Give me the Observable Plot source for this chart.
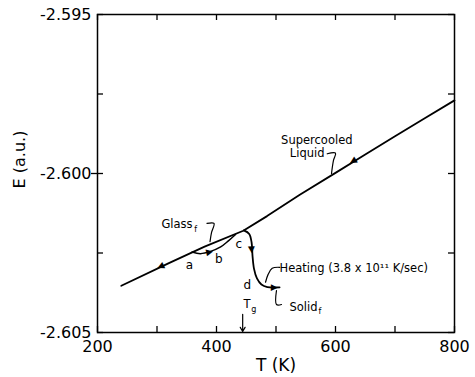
<!DOCTYPE html>
<html><head><meta charset="utf-8">
<script src="https://cdn.jsdelivr.net/npm/d3@7"></script>
<script src="https://cdn.jsdelivr.net/npm/@observablehq/plot@0.6"></script>
<style>body{margin:0;background:#fff}</style>
</head><body><div id="chart"></div>
<script>
// Supercooled liquid / glass branch (cooling)
const liquidT = [240, 320, 380, 445, 485, 540, 600, 650, 700, 750, 800];
const liquidE = [-2.60353, -2.60282, -2.60230, -2.60180, -2.60134, -2.60067, -2.59998, -2.59940, -2.59883, -2.59826, -2.59770];
// glass loop (a -> b)
const glassT = [359, 373, 390, 407, 420, 432];
const glassE = [-2.60247, -2.60252, -2.60245, -2.60231, -2.60212, -2.60192];
// heating curve c -> d -> solid
const heatT = [446, 455, 459, 460.5, 463, 468, 475.5, 485.5, 506];
const heatE = [-2.60179, -2.60190, -2.60217, -2.60258, -2.60299, -2.60330, -2.60349, -2.60357, -2.60358];

const xTicks = [200, 300, 400, 500, 600, 700, 800];
const xTickLabels = [200, 400, 600, 800];
const yTicks = [-2.605, -2.6025, -2.6, -2.5975, -2.595];
const yTickLabels = [-2.605, -2.6, -2.595];
const xDomain = [200, 800];
const yDomain = [-2.605, -2.595];

// annotation texts
const labels = [
  {text: "Supercooled", T: 628.6, E: -2.59896, anchor: "end", size: 11.5},
  {text: "Liquid", T: 581.5, E: -2.59937, anchor: "end", size: 11.5},
  {text: "Glass", T: 359.7, E: -2.60160, anchor: "end", size: 11.5},
  {text: "f", T: 362.5, E: -2.60177, anchor: "start", size: 8},
  {text: "Heating (3.8 x 10¹¹ K/sec)", T: 506, E: -2.60299, anchor: "start", size: 11.5},
  {text: "Solid", T: 522.7, E: -2.60421, anchor: "start", size: 11.5},
  {text: "f", T: 571.5, E: -2.60434, anchor: "start", size: 8},
  {text: "T", T: 445.4, E: -2.60412, anchor: "start", size: 11.5},
  {text: "g", T: 458.5, E: -2.60426, anchor: "start", size: 8},
  {text: "a", T: 354.6, E: -2.60289, anchor: "middle", size: 12},
  {text: "b", T: 403.9, E: -2.60268, anchor: "middle", size: 12},
  {text: "c", T: 437.5, E: -2.60221, anchor: "middle", size: 12},
  {text: "d", T: 451.6, E: -2.60352, anchor: "middle", size: 12}
];
// pointer strokes for labels
const pointers = [
  {id: "liquid", T: [586.1, 600.0, 596.6, 593.3], E: [-2.59938, -2.59936, -2.59959, -2.60000]},
  {id: "glass", T: [384.0, 395.8, 391.6, 389.1], E: [-2.60157, -2.60157, -2.60186, -2.60214]},
  {id: "heating", T: [506.4, 493.6, 486.6, 482.4], E: [-2.60295, -2.60298, -2.60318, -2.60342]},
  {id: "solid", T: [509.2, 500.8, 500.8], E: [-2.60412, -2.60412, -2.60368]}
];
const tgArrow = {T: 444, E1: -2.60443, E2: -2.60497};
// flow-direction arrowheads: series, segment index, fraction, direction
const flowArrows = [
  {series: "liquid", seg: 0, t: 0.83, dir: -1},
  {series: "liquid", seg: 6, t: 0.6, dir: -1},
  {series: "glass", seg: 1, t: 0.9, dir: 1},
  {series: "heat", seg: 2, t: 0.56, dir: 1},
  {series: "heat", seg: 7, t: 0.56, dir: 1}
];

const W = 475, H = 377, mL = 97, mR = 21, mT = 14, mB = 45;
const plotW = W - mL - mR, plotH = H - mT - mB;
const kx = plotW / (xDomain[1] - xDomain[0]);
const ky = plotH / (yDomain[1] - yDomain[0]);

const zip = (T, E) => T.map((t, i) => ({T: t, E: E[i]}));
const series = {liquid: zip(liquidT, liquidE), glass: zip(glassT, glassE), heat: zip(heatT, heatE)};
const arrowPts = flowArrows.map(a => {
  const p0 = series[a.series][a.seg], p1 = series[a.series][a.seg + 1];
  const T = p0.T + (p1.T - p0.T) * a.t, E = p0.E + (p1.E - p0.E) * a.t;
  const ang = Math.atan2(-(p1.E - p0.E) * ky * a.dir, (p1.T - p0.T) * kx * a.dir) * 180 / Math.PI;
  return {T, E, ang};
});
const pointerData = pointers.flatMap(p => p.T.map((t, i) => ({id: p.id, T: t, E: p.E[i]})));

const chart = Plot.plot({
  width: W, height: H,
  marginLeft: mL, marginRight: mR, marginTop: mT, marginBottom: mB,
  style: {fontFamily: "DejaVu Sans", fontSize: "16px", color: "black", background: "white"},
  x: {domain: xDomain},
  y: {domain: yDomain},
  marks: [
    Plot.frame({strokeWidth: 1.5}),
    Plot.tickX(xTicks, {x: d => d, insetTop: plotH - 6, strokeWidth: 1.3}),
    Plot.tickX(xTicks, {x: d => d, insetBottom: plotH - 6, strokeWidth: 1.3}),
    Plot.tickY(yTicks, {y: d => d, insetRight: plotW - 6, strokeWidth: 1.3}),
    Plot.tickY(yTicks, {y: d => d, insetLeft: plotW - 6, strokeWidth: 1.3}),
    Plot.axisX(xTickLabels, {tickSize: 0, tickPadding: 8, fontSize: 16, tickFormat: d => String(d), label: null}),
    Plot.axisY(yTickLabels, {tickSize: 0, tickPadding: 6, fontSize: 16, tickFormat: d => d.toFixed(3), label: null}),
    Plot.axisY([-2.6], {tickSize: 6, strokeWidth: 1.3, tickFormat: () => "", label: null}),
    Plot.text(["T (K)"], {frameAnchor: "bottom", dy: 33, fontSize: 17, lineAnchor: "middle"}),
    Plot.text(["E (a.u.)"], {frameAnchor: "left", dx: -78, dy: -14, rotate: -90, fontSize: 16, lineAnchor: "middle", textAnchor: "middle"}),
    Plot.line(series.liquid, {x: "T", y: "E", strokeWidth: 1.8}),
    Plot.line(series.glass, {x: "T", y: "E", strokeWidth: 1.5, curve: "catmull-rom"}),
    Plot.line(series.heat, {x: "T", y: "E", strokeWidth: 1.8, curve: "catmull-rom"}),
    Plot.line(pointerData, {x: "T", y: "E", z: "id", strokeWidth: 1.2, curve: "catmull-rom"}),
    Plot.arrow([tgArrow], {x1: "T", y1: "E1", x2: "T", y2: "E2", headLength: 6, strokeWidth: 1.2}),
    Plot.text(arrowPts, {x: "T", y: "E", text: () => "▶", rotate: "ang", fontSize: 9, lineAnchor: "middle", textAnchor: "middle"}),
    ...labels.map(l => Plot.text([l], {x: "T", y: "E", text: "text", fontSize: l.size, textAnchor: l.anchor, lineAnchor: "middle"}))
  ]
});
document.getElementById("chart").append(chart);
</script>
</body></html>
